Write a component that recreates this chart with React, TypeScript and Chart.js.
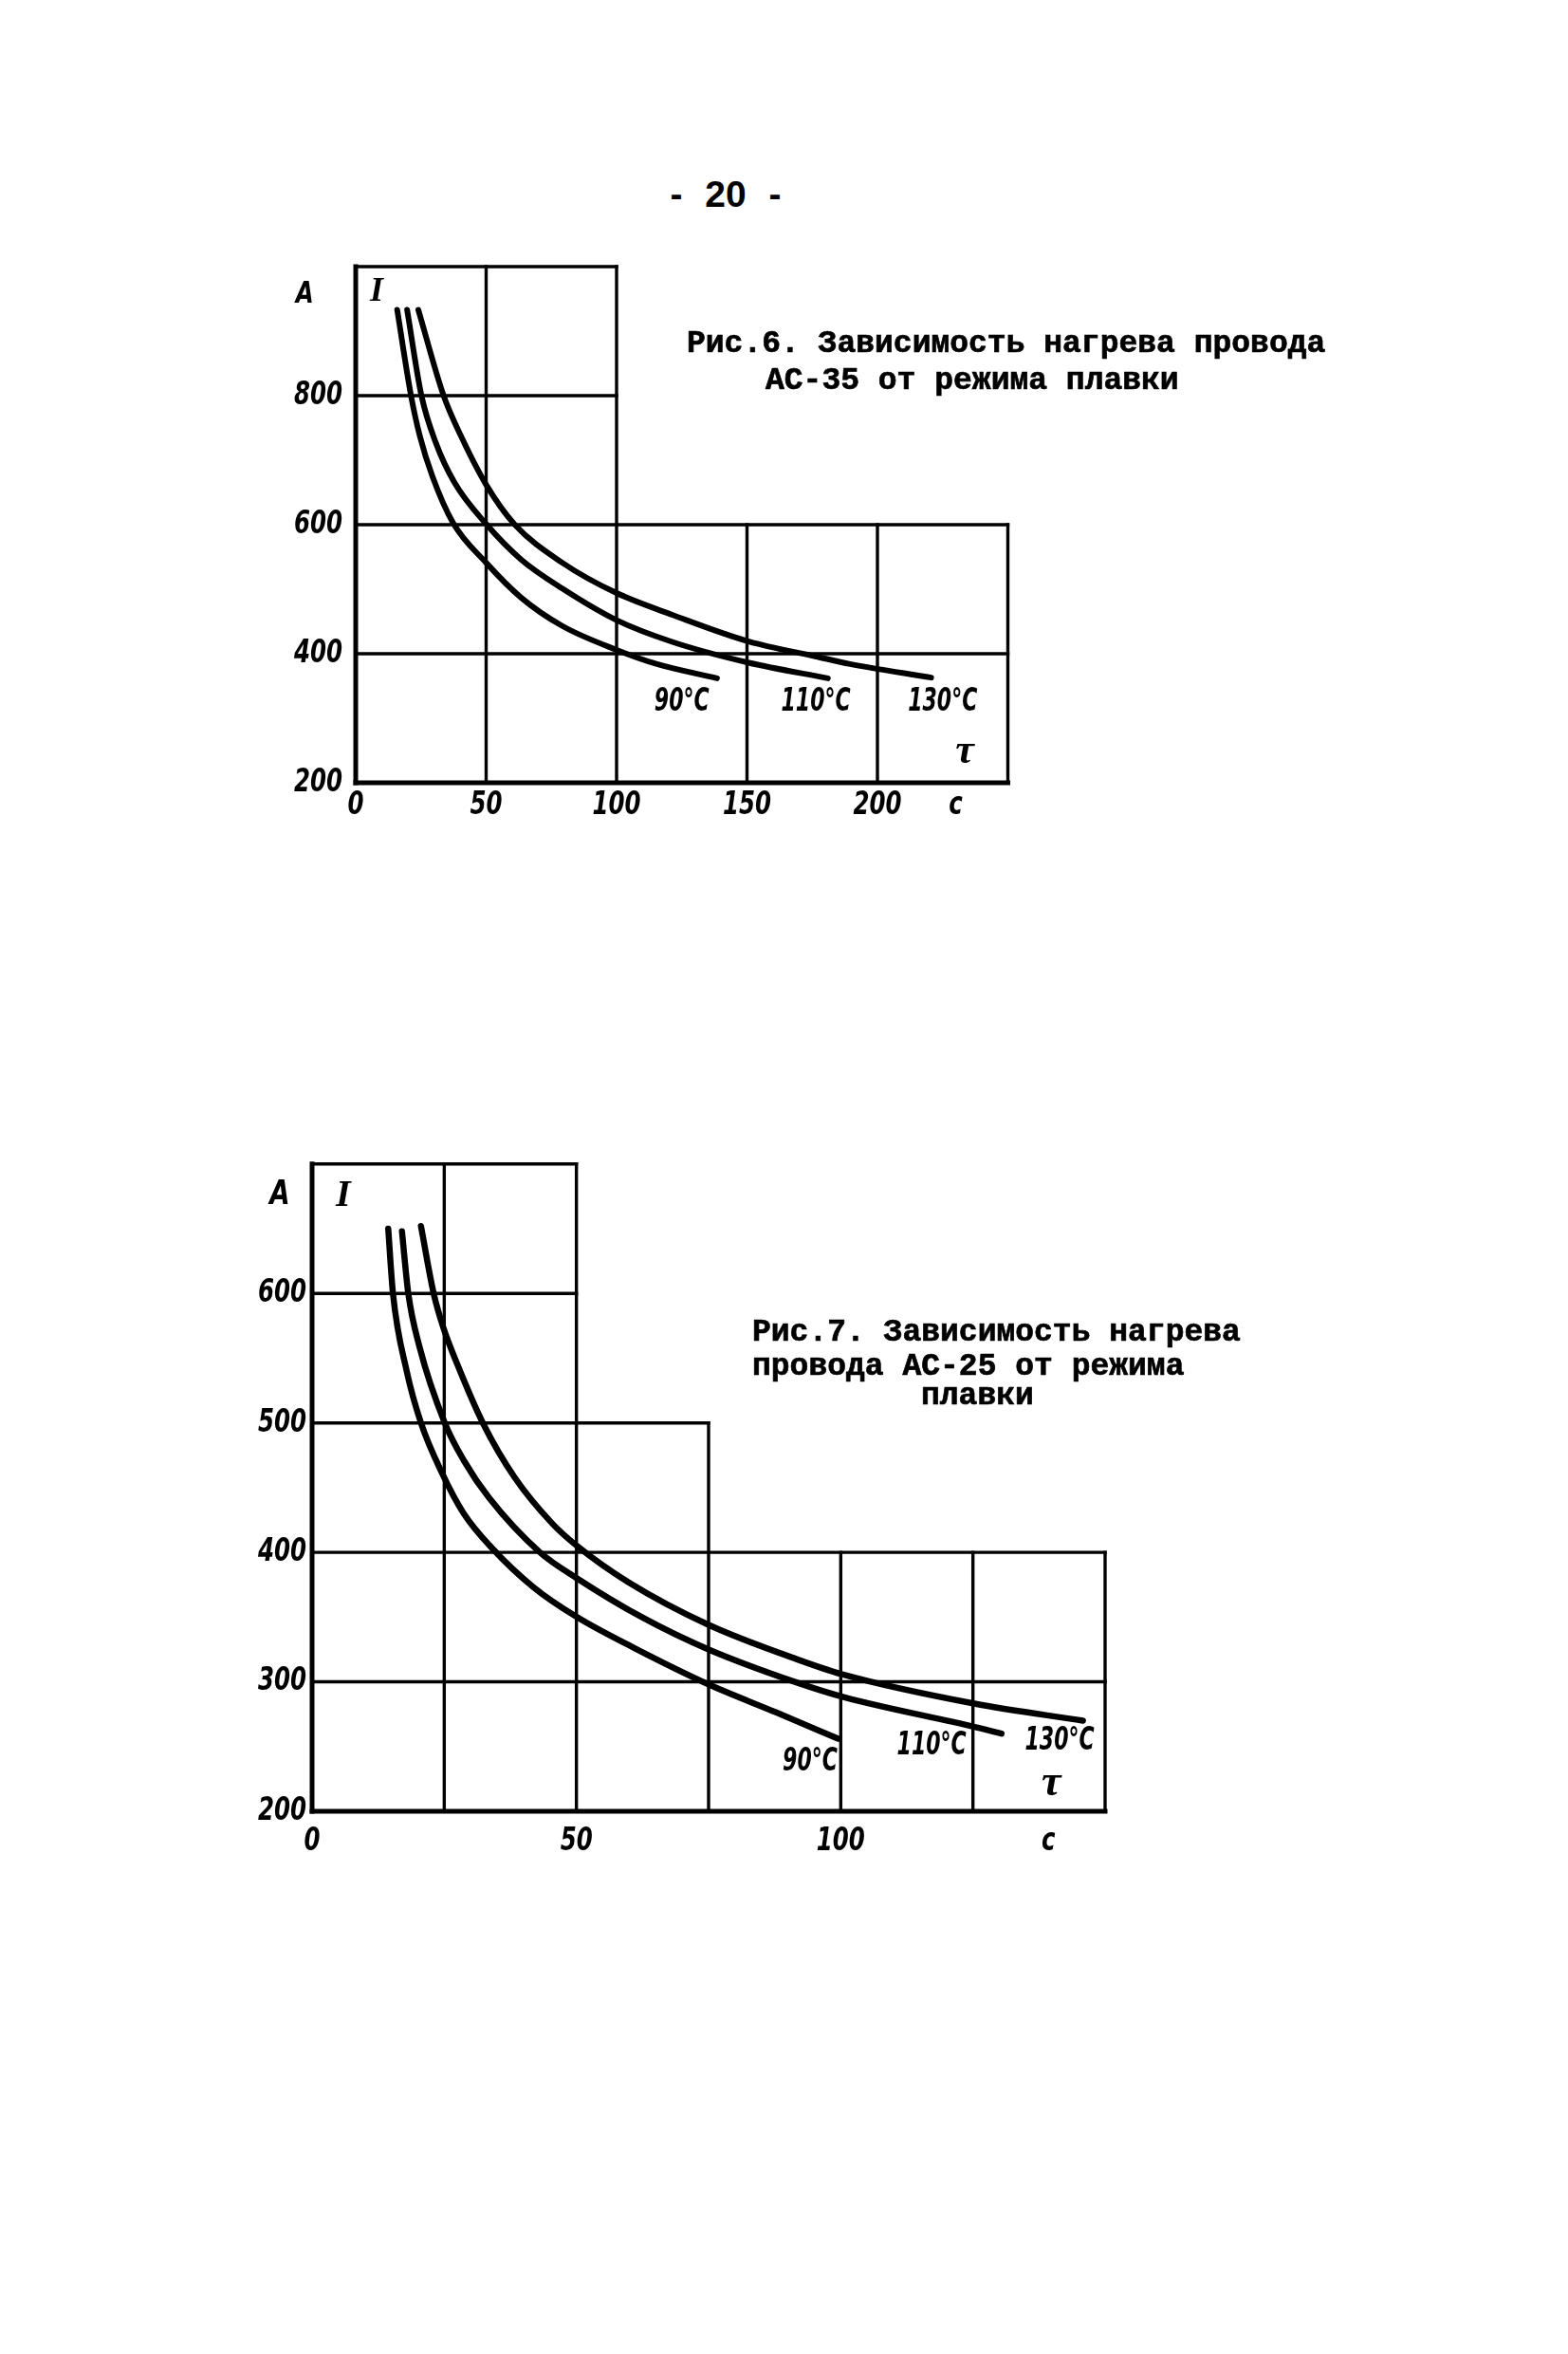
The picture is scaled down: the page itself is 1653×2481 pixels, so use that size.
import React, { useEffect, useRef } from 'react';
import { Chart, registerables } from 'chart.js';

Chart.register(...registerables);

// ---------- Рис.6 (АС-35): I, A vs τ, c ----------
const fig6Curve90X = [15.9, 21.2, 24.6, 29.4, 37.3, 50, 63.4, 79.2, 100, 115.5, 138.5];
const fig6Curve90Y = [933, 800, 737, 675, 603, 541, 487, 443, 406, 384, 362];
const fig6Curve110X = [19.7, 25.2, 30.7, 37.9, 50, 63.4, 79.2, 100, 121.6, 150.7, 181];
const fig6Curve110Y = [933, 800, 727, 665, 601, 546, 501, 452, 418, 386, 362];
const fig6Curve130X = [24, 33.7, 40.4, 50, 61, 79.2, 100, 121.6, 150.7, 176.2, 189.5, 220.6];
const fig6Curve130Y = [933, 800, 737, 662, 600, 541, 494, 460, 419, 396, 384, 363];
const fig6XTickValues = [0, 50, 100, 150, 200, 230];
const fig6XTickLabels = ['0', '50', '100', '150', '200', 'c'];
const fig6YTickValues = [200, 400, 600, 800];
const fig6YTickLabels = ['200', '400', '600', '800'];
const fig6GridVX = [0, 50, 100, 150, 200, 250];
const fig6GridVTop = [1000, 1000, 1000, 600, 600, 600];
const fig6GridHY = [200, 400, 600, 800, 1000];
const fig6GridHRight = [250, 250, 250, 100, 100];
const fig6CurveNames = ['90°C', '110°C', '130°C'];
const fig6CurveLabelX = [125, 176.4, 225];
const fig6CurveLabelY = [325, 325, 325];
const fig6SymbolTexts = ['A', 'I', 'τ'];
const fig6SymbolX = [-19.6, 8, 233.5];
const fig6SymbolY = [956, 960, 248];

// ---------- Рис.7 (АС-25) ----------
const fig7Curve90X = [14.4, 15.3, 17.9, 20.6, 24.5, 28.7, 34.1, 41.9, 50.1, 61, 75, 88, 99.5];
const fig7Curve90Y = [650, 600, 540, 500, 462, 430, 403, 373, 350, 326, 298, 276, 256];
const fig7Curve110X = [17, 18.2, 20.3, 25.1, 28.7, 33.5, 43.1, 50.1, 62.8, 75, 92, 100.7, 125.5, 130.4];
const fig7Curve110Y = [648, 600, 559, 500, 471, 442, 400, 380, 349, 325, 299, 288, 265, 260];
const fig7Curve130X = [20.6, 23, 24.8, 27.5, 32.3, 38.3, 45.5, 50.1, 59.8, 75, 92, 100.1, 125.5, 145.8];
const fig7Curve130Y = [652, 600, 574, 545, 500, 458, 422, 405, 377, 344, 317, 306, 283, 270];
const fig7XTickValues = [0, 50, 100, 139.3];
const fig7XTickLabels = ['0', '50', '100', 'c'];
const fig7YTickValues = [200, 300, 400, 500, 600];
const fig7YTickLabels = ['200', '300', '400', '500', '600'];
const fig7GridVX = [0, 25, 50, 75, 100, 125, 150];
const fig7GridVTop = [700, 700, 700, 500, 400, 400, 400];
const fig7GridHY = [200, 300, 400, 500, 600, 700];
const fig7GridHRight = [150, 150, 150, 75, 50, 50];
const fig7CurveNames = ['90°C', '110°C', '130°C'];
const fig7CurveLabelX = [94.2, 117.2, 141.4];
const fig7CurveLabelY = [238, 250.5, 254];
const fig7SymbolTexts = ['A', 'I', 'τ'];
const fig7SymbolX = [-6.1, 5.9, 139.8];
const fig7SymbolY = [676, 675, 221];

const NARROW = "'Liberation Sans Narrow', 'DejaVu Sans Condensed', 'Liberation Sans', sans-serif";
const TYPEWRITER = "'Liberation Mono', 'DejaVu Sans Mono', monospace";
const SERIF = "'Liberation Serif', 'DejaVu Serif', serif";

type Spec = {
  curves: { xs: number[]; ys: number[]; name: string }[];
  xMin: number; xMax: number; yMin: number; yMax: number;
  xTicks: number[]; xTickLabels: string[];
  yTicks: number[]; yTickLabels: string[];
  gridVX: number[]; gridVTop: number[]; gridHY: number[]; gridHRight: number[];
  labelX: number[]; labelY: number[];
  symbols: string[]; symbolX: number[]; symbolY: number[];
  symbolFonts: string[]; symbolSquash: number[];
  padding: { left: number; right: number; top: number; bottom: number };
  yAxisWidth: number; xAxisHeight: number;
  yTickGap: number; xTickDrop: number;
  curveWidth: number;
};

const TICK_FONT = `italic bold 34px ${NARROW}`;
const TICK_SQUASH = 0.8;
const LABEL_FONT = `italic bold 34px ${NARROW}`;
const LABEL_SQUASH = 0.72;

function squashedText(ctx: CanvasRenderingContext2D, text: string, px: number, py: number, sx: number) {
  ctx.save();
  ctx.translate(px, py);
  ctx.scale(sx, 1);
  ctx.fillText(text, 0, 0);
  ctx.restore();
}

function makeSketchPlugin(spec: Spec) {
  return {
    id: 'sketch',
    beforeDatasetsDraw(chart: any) {
      const { ctx } = chart;
      const x = chart.scales.x;
      const y = chart.scales.y;
      ctx.save();
      ctx.strokeStyle = '#000';
      ctx.lineCap = 'square';
      spec.gridVX.forEach((v, i) => {
        ctx.lineWidth = i === 0 ? 5 : 3.4;
        const px = x.getPixelForValue(v);
        ctx.beginPath();
        ctx.moveTo(px, y.getPixelForValue(spec.yMin));
        ctx.lineTo(px, y.getPixelForValue(spec.gridVTop[i]));
        ctx.stroke();
      });
      spec.gridHY.forEach((v, i) => {
        ctx.lineWidth = i === 0 ? 5 : 3.4;
        const py = y.getPixelForValue(v);
        ctx.beginPath();
        ctx.moveTo(x.getPixelForValue(spec.xMin), py);
        ctx.lineTo(x.getPixelForValue(spec.gridHRight[i]), py);
        ctx.stroke();
      });
      ctx.restore();
    },
    afterDatasetsDraw(chart: any) {
      const { ctx, chartArea } = chart;
      const x = chart.scales.x;
      const y = chart.scales.y;
      ctx.save();
      ctx.fillStyle = '#000';
      ctx.textBaseline = 'middle';

      // axis tick labels
      ctx.font = TICK_FONT;
      ctx.textAlign = 'center';
      spec.xTicks.forEach((v, i) => {
        squashedText(ctx, spec.xTickLabels[i], x.getPixelForValue(v), chartArea.bottom + spec.xTickDrop, TICK_SQUASH);
      });
      ctx.textAlign = 'right';
      spec.yTicks.forEach((v, i) => {
        squashedText(ctx, spec.yTickLabels[i], chartArea.left - spec.yTickGap, y.getPixelForValue(v), TICK_SQUASH);
      });

      // curve labels
      ctx.textAlign = 'center';
      ctx.font = LABEL_FONT;
      spec.curves.forEach((c, i) => {
        squashedText(ctx, c.name, x.getPixelForValue(spec.labelX[i]), y.getPixelForValue(spec.labelY[i]), LABEL_SQUASH);
      });

      // axis symbols
      spec.symbols.forEach((s, i) => {
        ctx.font = spec.symbolFonts[i];
        squashedText(ctx, s, x.getPixelForValue(spec.symbolX[i]), y.getPixelForValue(spec.symbolY[i]), spec.symbolSquash[i]);
      });
      ctx.restore();
    },
  };
}

function buildConfig(spec: Spec): any {
  return {
    type: 'line',
    data: {
      datasets: spec.curves.map((c) => ({
        label: c.name,
        data: c.xs.map((xv, i) => ({ x: xv, y: c.ys[i] })),
        borderColor: '#000',
        backgroundColor: '#000',
        borderWidth: spec.curveWidth,
        pointRadius: 0,
        fill: false,
        cubicInterpolationMode: 'monotone',
        borderCapStyle: 'round',
        borderJoinStyle: 'round',
      })),
    },
    options: {
      responsive: false,
      animation: false,
      events: [],
      layout: { padding: spec.padding },
      plugins: { legend: { display: false }, tooltip: { enabled: false } },
      scales: {
        x: {
          type: 'linear',
          min: spec.xMin,
          max: spec.xMax,
          grid: { display: false, drawTicks: false },
          border: { display: false },
          ticks: { display: false },
          afterBuildTicks: (s: any) => {
            s.ticks = spec.xTicks.map((v) => ({ value: v }));
          },
          afterFit: (s: any) => {
            s.height = spec.xAxisHeight;
          },
        },
        y: {
          type: 'linear',
          min: spec.yMin,
          max: spec.yMax,
          grid: { display: false, drawTicks: false },
          border: { display: false },
          ticks: { display: false },
          afterBuildTicks: (s: any) => {
            s.ticks = spec.yTicks.map((v) => ({ value: v }));
          },
          afterFit: (s: any) => {
            s.width = spec.yAxisWidth;
          },
        },
      },
    },
    plugins: [makeSketchPlugin(spec)],
  };
}

const fig6Spec: Spec = {
  curves: [
    { xs: fig6Curve90X, ys: fig6Curve90Y, name: fig6CurveNames[0] },
    { xs: fig6Curve110X, ys: fig6Curve110Y, name: fig6CurveNames[1] },
    { xs: fig6Curve130X, ys: fig6Curve130Y, name: fig6CurveNames[2] },
  ],
  xMin: 0, xMax: 250, yMin: 200, yMax: 1000,
  xTicks: fig6XTickValues, xTickLabels: fig6XTickLabels,
  yTicks: fig6YTickValues, yTickLabels: fig6YTickLabels,
  gridVX: fig6GridVX, gridVTop: fig6GridVTop, gridHY: fig6GridHY, gridHRight: fig6GridHRight,
  labelX: fig6CurveLabelX, labelY: fig6CurveLabelY,
  symbols: fig6SymbolTexts, symbolX: fig6SymbolX, symbolY: fig6SymbolY,
  symbolFonts: [`italic bold 32px ${NARROW}`, `italic bold 36px ${SERIF}`, `italic bold 44px ${SERIF}`],
  symbolSquash: [0.85, 1, 1],
  padding: { left: 25, right: 87.5, top: 51, bottom: 0 },
  yAxisWidth: 100, xAxisHeight: 85,
  yTickGap: 14, xTickDrop: 24,
  curveWidth: 6,
};

const fig7Spec: Spec = {
  curves: [
    { xs: fig7Curve90X, ys: fig7Curve90Y, name: fig7CurveNames[0] },
    { xs: fig7Curve110X, ys: fig7Curve110Y, name: fig7CurveNames[1] },
    { xs: fig7Curve130X, ys: fig7Curve130Y, name: fig7CurveNames[2] },
  ],
  xMin: 0, xMax: 150, yMin: 200, yMax: 700,
  xTicks: fig7XTickValues, xTickLabels: fig7XTickLabels,
  yTicks: fig7YTickValues, yTickLabels: fig7YTickLabels,
  gridVX: fig7GridVX, gridVTop: fig7GridVTop, gridHY: fig7GridHY, gridHRight: fig7GridHRight,
  labelX: fig7CurveLabelX, labelY: fig7CurveLabelY,
  symbols: fig7SymbolTexts, symbolX: fig7SymbolX, symbolY: fig7SymbolY,
  symbolFonts: [`italic bold 36px ${NARROW}`, `italic bold 40px ${SERIF}`, `italic bold 46px ${SERIF}`],
  symbolSquash: [0.85, 1, 1],
  padding: { left: 29, right: 85, top: 46.8, bottom: 0 },
  yAxisWidth: 100, xAxisHeight: 91,
  yTickGap: 6, xTickDrop: 32,
  curveWidth: 6.5,
};

function ChartCanvas({ spec, left, top, width, height }: { spec: Spec; left: number; top: number; width: number; height: number }) {
  const ref = useRef<HTMLCanvasElement | null>(null);
  useEffect(() => {
    if (!ref.current) return;
    const chart = new Chart(ref.current, buildConfig(spec));
    return () => chart.destroy();
  }, [spec]);
  return (
    <canvas
      ref={ref}
      width={width}
      height={height}
      style={{ position: 'absolute', left, top, width, height }}
    />
  );
}

const titleStyle: React.CSSProperties = {
  position: 'absolute',
  fontFamily: TYPEWRITER,
  fontWeight: 'bold',
  fontSize: 33,
  lineHeight: '33px',
  whiteSpace: 'pre',
  color: '#000',
  margin: 0,
  WebkitTextStroke: '0.7px #000',
};

export default function App() {
  return (
    <div style={{ position: 'absolute', left: 0, top: 0, width: 1653, height: 2481, background: '#fff', overflow: 'hidden' }}>
      <div
        style={{
          position: 'absolute', left: 765, top: 185, transform: 'translateX(-50%)',
          fontFamily: "'Liberation Sans', Arial, sans-serif", fontSize: 39, lineHeight: '39px',
          fontWeight: 'bold', wordSpacing: 13, whiteSpace: 'pre', color: '#000',
        }}
      >
        - 20 -
      </div>

      <ChartCanvas spec={fig6Spec} left={250} top={230} width={900} height={680} />
      <div style={{ ...titleStyle, left: 724, top: 346 }}>Рис.6. Зависимость нагрева провода</div>
      <div style={{ ...titleStyle, left: 807, top: 385 }}>АС-35 от режима плавки</div>

      <ChartCanvas spec={fig7Spec} left={200} top={1180} width={1050} height={820} />
      <div style={{ ...titleStyle, left: 793, top: 1388 }}>Рис.7. Зависимость нагрева</div>
      <div style={{ ...titleStyle, left: 793, top: 1424 }}>провода АС-25 от режима</div>
      <div style={{ ...titleStyle, left: 971, top: 1455 }}>плавки</div>
    </div>
  );
}
